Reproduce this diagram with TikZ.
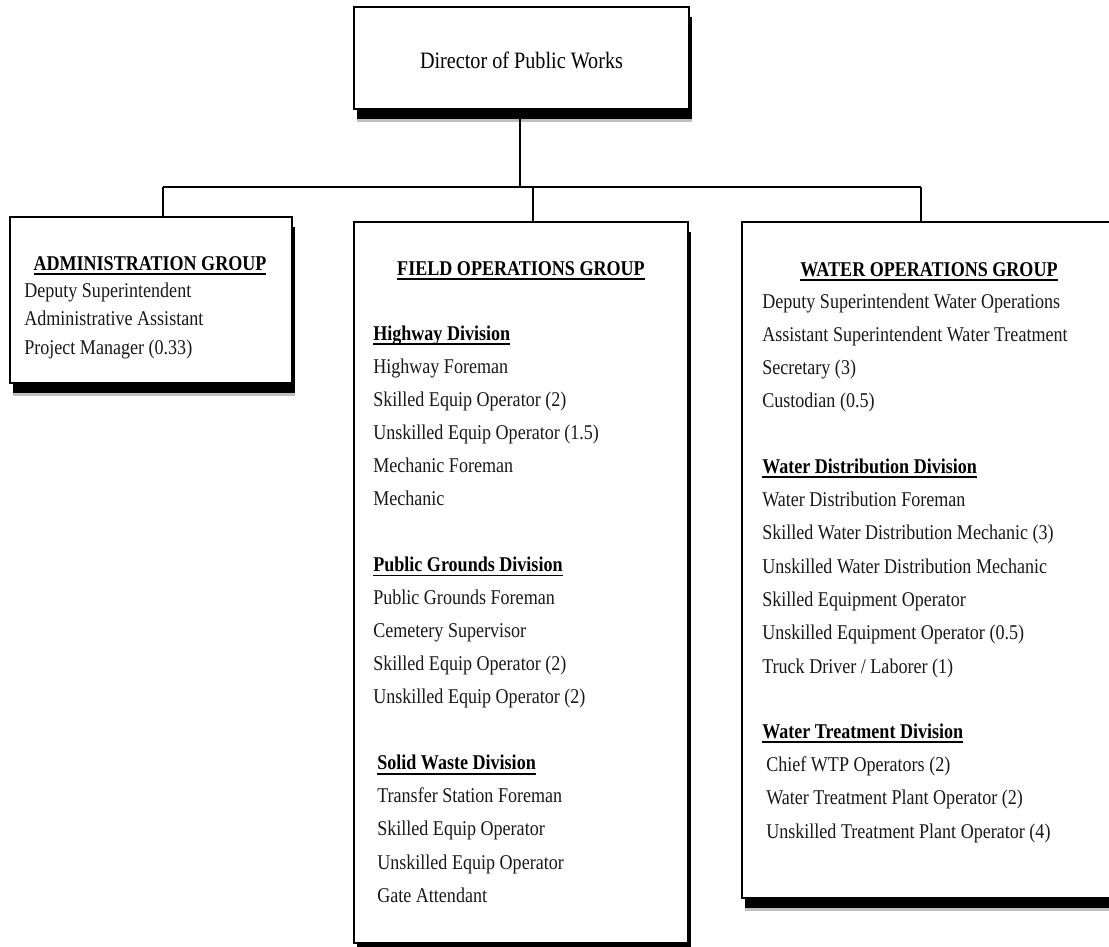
\documentclass[tikz,border=0pt]{standalone}
\usepackage{fontspec}
\setmainfont{Liberation Serif}[FakeStretch=0.86]
\usetikzlibrary{shadows}
\newsavebox\hulbox
\newcommand\hul[1]{\sbox\hulbox{#1}\rlap{\rule[-3.6pt]{\wd\hulbox}{1.2pt}}\usebox\hulbox}
\tikzset{
  orgbox/.style={draw=black, line width=1.5pt, fill=white, inner sep=0pt, outer sep=0pt,
    drop shadow={shadow xshift=2.5pt, shadow yshift=-9.5pt, fill=black, opacity=0.25},
    drop shadow={shadow xshift=2.2pt, shadow yshift=-7.8pt, fill=black, opacity=1}},
  link/.style={line width=1.3pt, draw=black},
  roletext/.style={anchor=base west, inner sep=0pt, font=\fontsize{15.75}{18}\selectfont, text=black!90},
  divhead/.style={anchor=base west, inner sep=0pt, font=\bfseries\fontsize{15.75}{18}\selectfont},
  grouphead/.style={anchor=base, inner sep=0pt, font=\bfseries\fontsize{15.75}{18}\selectfont},
}
\begin{document}
\begin{tikzpicture}[x=0.75pt, y=-0.75pt]
\useasboundingbox (0,0) rectangle (1109,946);
\clip (0,0) rectangle (1109,946);

% connectors (drawn first, boxes cover ends)
\coordinate (busL) at (163,187);
\coordinate (busF) at (533,187);
\coordinate (busR) at (921,187);
\coordinate (busD) at (520,187);

% boxes
\node[orgbox, minimum width=251.25pt, minimum height=76.5pt] (dir) at (521.5,58) {};
\node[orgbox, minimum width=211.5pt, minimum height=124.5pt] (adm) at (151,300) {};
\node[orgbox, minimum width=250.5pt, minimum height=540.75pt] (fld) at (521,582.5) {};
\node[orgbox, minimum width=287.25pt, minimum height=507pt] (wat) at (933.5,560) {};

\draw[link] (busD |- dir.south) -- (busD);
\draw[link] (busL) -- (busR);
\draw[link] (busL) -- (busL |- adm.north);
\draw[link] (busF) -- (busF |- fld.north);
\draw[link] (busR) -- (busR |- wat.north);

% director
\node[anchor=base, inner sep=0pt, font=\fontsize{17.6}{20}\selectfont] (dirt) at (521.5,68) {Director of Public Works};

% administration
\node[grouphead] (admh) at (150,270) {\hul{ADMINISTRATION GROUP}};
\foreach \t [count=\i from 0] in {Deputy Superintendent, Administrative Assistant, Project Manager (0.33)}
  \node[roletext] (ad\i) at (24,{297+\i*28.5}) {\t};

% field operations
\node[grouphead] (fldh) at (521,275) {\hul{FIELD OPERATIONS GROUP}};
\node[divhead] (hwd) at (373,340) {\hul{Highway Division}};
\foreach \t [count=\i from 0] in {Highway Foreman, Skilled Equip Operator (2), Unskilled Equip Operator (1.5), Mechanic Foreman, Mechanic}
  \node[roletext] (hw\i) at (373,{373.1+\i*33.06}) {\t};
\node[divhead] (pgd) at (373,571.4) {\hul{Public Grounds Division}};
\foreach \t [count=\i from 0] in {Public Grounds Foreman, Cemetery Supervisor, Skilled Equip Operator (2), Unskilled Equip Operator (2)}
  \node[roletext] (pg\i) at (373,{604.5+\i*33.06}) {\t};
\node[divhead] (swd) at (377,769.8) {\hul{Solid Waste Division}};
\foreach \t [count=\i from 0] in {Transfer Station Foreman, Skilled Equip Operator, Unskilled Equip Operator, Gate Attendant}
  \node[roletext] (sw\i) at (377,{802.9+\i*33.06}) {\t};

% water operations
\node[grouphead] (wath) at (929,276) {\hul{WATER OPERATIONS GROUP}};
\foreach \t [count=\i from 0] in {Deputy Superintendent Water Operations, Assistant Superintendent Water Treatment, Secretary (3), Custodian (0.5)}
  \node[roletext] (wo\i) at (762,{308+\i*33.3}) {\t};
\node[divhead] (wdd) at (762,473) {\hul{Water Distribution Division}};
\foreach \t [count=\i from 0] in {Water Distribution Foreman, Skilled Water Distribution Mechanic (3), Unskilled Water Distribution Mechanic, Skilled Equipment Operator, Unskilled Equipment Operator (0.5), Truck Driver / Laborer (1)}
  \node[roletext] (wd\i) at (762,{506.5+\i*33.3}) {\t};
\node[divhead] (wtd) at (762,738) {\hul{Water Treatment Division}};
\foreach \t [count=\i from 0] in {Chief WTP Operators (2), Water Treatment Plant Operator (2), Unskilled Treatment Plant Operator (4)}
  \node[roletext] (wt\i) at (766,{771.5+\i*33.3}) {\t};
\end{tikzpicture}
\end{document}
